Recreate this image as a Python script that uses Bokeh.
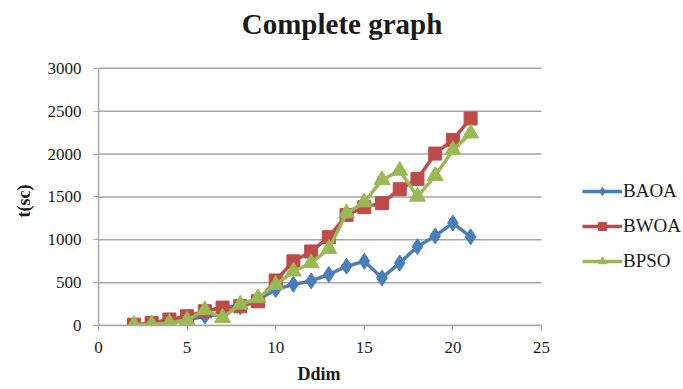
import math
from bokeh.plotting import figure
from bokeh.models import Legend, LegendItem, Range1d, FixedTicker, Title, Label
from bokeh.embed import file_html
from bokeh.resources import INLINE

ddim = [2, 3, 4, 5, 6, 7, 8, 9, 10, 11, 12, 13, 14, 15, 16, 17, 18, 19, 20, 21]
baoa = [5, 10, 30, 60, 110, 130, 220, 300, 420, 480, 520, 595, 690, 750, 555, 730, 920, 1045, 1195, 1035]
bwoa = [10, 30, 70, 108, 166, 209, 225, 283, 525, 748, 864, 1030, 1290, 1380, 1427, 1590, 1710, 2005, 2165, 2415]
bpso = [10, 15, 30, 60, 180, 90, 245, 320, 475, 632, 729, 895, 1310, 1438, 1698, 1806, 1504, 1744, 2047, 2241]
x_ticks = [0, 5, 10, 15, 20, 25]
y_ticks = [0, 500, 1000, 1500, 2000, 2500, 3000]

FONT = "Liberation Serif"
BLUE = "#4A7EBB"
RED = "#BE4B48"
GREEN = "#98B954"
GRID = "#a6a6a6"
TXT = "#1a1a1a"

W, H = 683, 389
PLOT_L, PLOT_R, PLOT_T, PLOT_B = 98, 541, 68, 326   # plot-area box in pixels
X_MIN, X_MAX = 0, 25
Y_MIN, Y_MAX = 0, 3000
PX_X = (PLOT_R - PLOT_L) / (X_MAX - X_MIN)
PX_Y = (PLOT_B - PLOT_T) / (Y_MAX - Y_MIN)
X_VIEW_MAX = X_MIN + (W - PLOT_L) / PX_X
Y_VIEW_MAX = Y_MIN + PLOT_B / PX_Y


def px_to_x(px):
    return X_MIN + (px - PLOT_L) / PX_X


def py_to_y(py):
    return Y_MIN + (PLOT_B - py) / PX_Y


p = figure(width=W, height=H, output_backend="svg", toolbar_location=None,
           x_range=Range1d(X_MIN, X_VIEW_MAX), y_range=Range1d(Y_MIN, Y_VIEW_MAX),
           min_border_left=PLOT_L, min_border_right=0, min_border_top=0,
           min_border_bottom=H - PLOT_B)
p.outline_line_color = None

p.xaxis.ticker = FixedTicker(ticks=x_ticks)
p.yaxis.ticker = FixedTicker(ticks=y_ticks)
p.xaxis.bounds = (X_MIN, X_MAX)
p.yaxis.bounds = (Y_MIN, Y_MAX)
p.xgrid.grid_line_color = None
p.ygrid.grid_line_color = None
# horizontal gridlines spanning the data x-range only
p.segment(x0=[X_MIN] * len(y_ticks), x1=[X_MAX] * len(y_ticks), y0=y_ticks, y1=y_ticks,
          line_color=GRID, line_width=1.5)
for ax in (p.xaxis[0], p.yaxis[0]):
    ax.axis_line_color = GRID
    ax.axis_line_width = 1.5
    ax.major_tick_line_color = GRID
    ax.major_tick_out = 5
    ax.major_tick_in = 0
    ax.minor_tick_line_color = None
    ax.major_label_text_font = FONT
    ax.major_label_text_font_size = "17px"
    ax.major_label_text_color = TXT
p.xaxis.major_label_standoff = 11
p.yaxis.major_label_standoff = 12

# chart title
p.add_layout(Label(x=px_to_x(341.5), y=py_to_y(24), text="Complete graph",
                   text_font=FONT, text_font_size="29px", text_font_style="bold",
                   text_color=TXT, text_align="center", text_baseline="middle"))

xlabel = Title(text="Ddim", align="left", offset=199, text_font=FONT, text_font_size="18px",
               text_font_style="bold", text_color=TXT, standoff=12)
p.add_layout(xlabel, "below")
ylabel = Title(text="t(sc)", align="left", offset=PLOT_B - 218, text_font=FONT,
               text_font_size="18px", text_font_style="bold", text_color=TXT, standoff=22)
p.add_layout(ylabel, "left")

r1 = p.line(ddim, baoa, line_color=BLUE, line_width=3.5)
m1 = p.scatter(ddim, baoa, marker="diamond", size=16, fill_color=BLUE, line_color=BLUE)
r2 = p.line(ddim, bwoa, line_color=RED, line_width=3.5)
m2 = p.scatter(ddim, bwoa, marker="square", size=13, fill_color=RED, line_color=RED)
r3 = p.line(ddim, bpso, line_color=GREEN, line_width=3.5)
m3 = p.scatter(ddim, bpso, marker="triangle", size=16, fill_color=GREEN, line_color=GREEN)

legend = Legend(items=[LegendItem(label="BAOA", renderers=[r1, m1]),
                       LegendItem(label="BWOA", renderers=[r2, m2]),
                       LegendItem(label="BPSO", renderers=[r3, m3])],
                location=(484, 53), border_line_color=None, background_fill_alpha=0,
                glyph_width=40, glyph_height=20, spacing=13, padding=0, margin=0,
                label_text_font=FONT, label_text_font_size="19px", label_text_color=TXT,
                label_standoff=1)
p.add_layout(legend, "center")

open("out.html", "w").write(file_html(p, INLINE))
